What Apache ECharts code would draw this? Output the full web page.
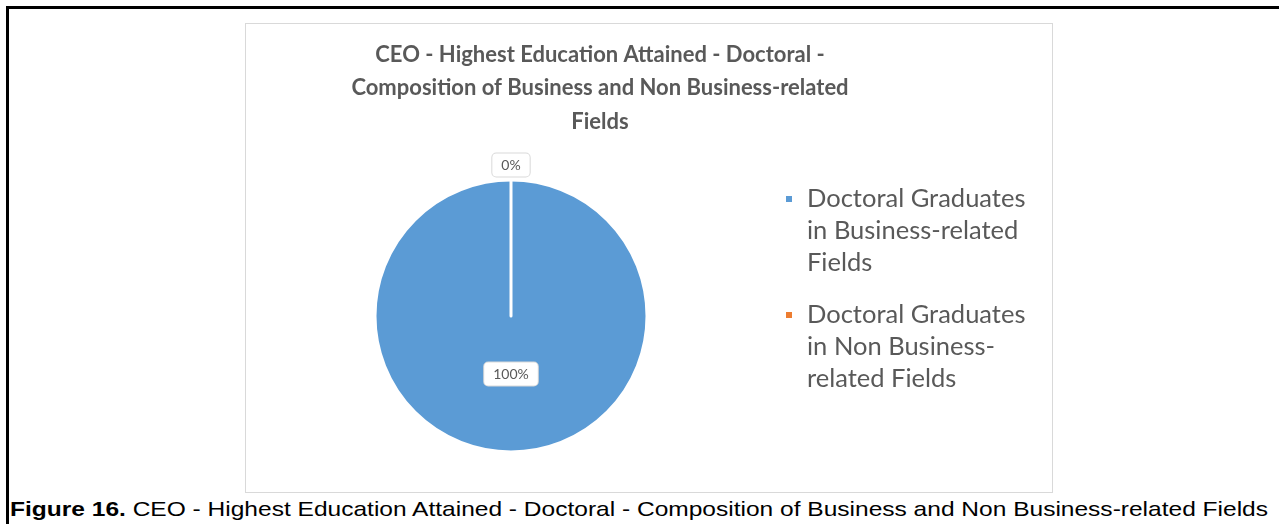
<!DOCTYPE html>
<html>
<head>
<meta charset="utf-8">
<script src="https://cdn.jsdelivr.net/npm/echarts@6/dist/echarts.min.js"></script>
<style>
  html, body { margin: 0; padding: 0; background: #fff; }
  #page { position: relative; width: 1279px; height: 524px; overflow: hidden; }
  #frame { position: absolute; left: 6px; top: 6px; right: 0; bottom: 0;
           border-top: 3px solid #000; border-left: 3px solid #000; }
  #chart { position: absolute; left: 245px; top: 23px; width: 808px; height: 470px;
           box-sizing: border-box; border: 1px solid #d9d9d9; }
  #caption { position: absolute; left: 10px; top: 497px;
             font-family: "Liberation Sans", Arial, sans-serif; font-size: 21px;
             color: #000; white-space: nowrap; transform-origin: 0 0; }
  #caption b { font-weight: bold; }
</style>
</head>
<body>
<div id="page">
  <div id="frame"></div>
  <div id="chart"></div>
  <div id="caption"><b>Figure 16.</b> CEO - Highest Education Attained - Doctoral - Composition of Business and Non Business-related Fields</div>
</div>
<script>
// Share of doctoral-degree CEOs by field of study
const chartTitle = 'CEO - Highest Education Attained - Doctoral -\nComposition of Business and Non Business-related\nFields';
const categories = [
  'Doctoral Graduates in Business-related Fields',
  'Doctoral Graduates in Non Business-related Fields'
];
const legendLabels = [
  'Doctoral Graduates\nin Business-related\nFields',
  'Doctoral Graduates\nin Non Business-\nrelated Fields'
];
const values = [100, 0];
const colors = ['#5B9BD5', '#ED7D31'];

// caption is set in a wide face: stretch it across the figure width
const cap = document.getElementById('caption');
cap.style.transform = 'scaleX(' + (1258 / cap.getBoundingClientRect().width) + ')';

const chart = echarts.init(document.getElementById('chart'));

const labelBox = {
  show: true,
  formatter: '{d}%',
  fontFamily: 'Lato, "Open Sans", sans-serif',
  fontSize: 14,
  color: '#595959',
  backgroundColor: '#ffffff',
  borderColor: '#d9d9d9',
  borderWidth: 1,
  borderRadius: 4,
  padding: [5, 9, 4, 9]
};

chart.setOption({
  animation: false,
  title: {
    text: chartTitle,
    left: 349,
    top: 9,
    textAlign: 'center',
    textStyle: {
      fontFamily: 'Lato, "Open Sans", sans-serif',
      fontWeight: 'bold',
      fontSize: 22,
      lineHeight: 33.5,
      color: '#595959'
    }
  },
  legend: {
    orient: 'vertical',
    left: 538,
    top: 95,
    padding: 0,
    itemWidth: 8,
    itemHeight: 8,
    itemGap: -44,
    icon: 'rect',
    data: categories,
    // two empty lines above each label keep the marker level with its first line
    formatter: function (name) {
      return '\n\n' + legendLabels[categories.indexOf(name)];
    },
    textStyle: {
      fontFamily: 'Lato, "Open Sans", sans-serif',
      fontSize: 25.5,
      lineHeight: 32,
      color: '#595959',
      padding: [0, 0, 0, 9]
    }
  },
  series: [{
    type: 'pie',
    center: [265, 292],
    radius: 136,
    startAngle: 90,
    clockwise: true,
    avoidLabelOverlap: false,
    itemStyle: { borderColor: '#ffffff', borderWidth: 3 },
    label: Object.assign({}, labelBox, { position: 'inside', offset: [0, -13] }),
    labelLine: { show: false },
    // the outside label of the empty slice sits centred over the top of the pie
    labelLayout: function (params) {
      return params.dataIndex === 1 ? { align: 'center', dy: -2 } : {};
    },
    data: categories.map(function (name, i) {
      const item = { name: name, value: values[i], itemStyle: { color: colors[i] } };
      if (i === 1) {
        item.label = Object.assign({}, labelBox, { position: 'outside', distanceToLabelLine: 0 });
        item.labelLine = { show: false, length: 0, length2: 0 };
      }
      return item;
    })
  }]
});
</script>
</body>
</html>
